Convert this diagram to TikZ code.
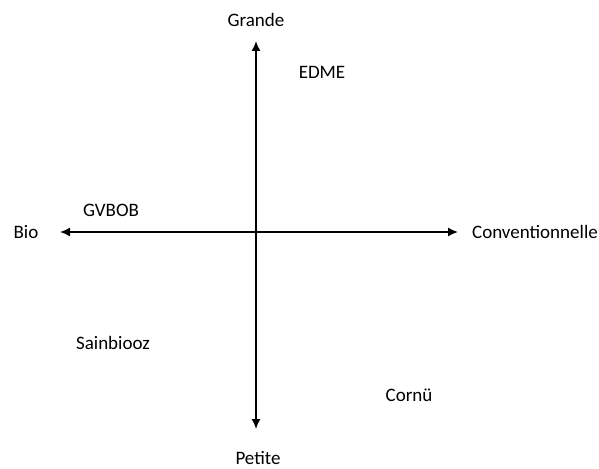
\documentclass[tikz,border=0pt]{standalone}
\usepackage{fontspec}
\setmainfont{Carlito}
\usetikzlibrary{arrows.meta}

\begin{document}
\begin{tikzpicture}[x=1pt,y=-1pt,
  axe/.style={line width=1.5pt,-{Latex[length=10pt,width=9pt]}},
  lab/.style={font=\fontsize{19}{22}\selectfont,inner sep=1pt}]
\useasboundingbox (0,0) rectangle (599,468);
\coordinate (o) at (256,232);
\coordinate (haut) at (256,41);
\coordinate (bas) at (256,429);
\coordinate (gauche) at (60,232);
\coordinate (droite) at (458,232);
\draw[axe] (o) -- (haut);
\draw[axe] (o) -- (bas);
\draw[axe] (o) -- (gauche);
\draw[axe] (o) -- (droite);
% axes
\node[lab] (grande) at (256,20) {Grande};
\node[lab] (petite) at (258,458) {Petite};
\node[lab] (bio) at (26,232) {Bio};
\node[lab] (conv) at (535,232) {Conventionnelle};
% entreprises
\node[lab] (edme) at (322,72) {EDME};
\node[lab] (gvbob) at (111,210) {GVBOB};
\node[lab] (sainbiooz) at (113,343) {Sainbiooz};
\node[lab] (cornu) at (409,395) {Cornü};
\end{tikzpicture}
\end{document}
